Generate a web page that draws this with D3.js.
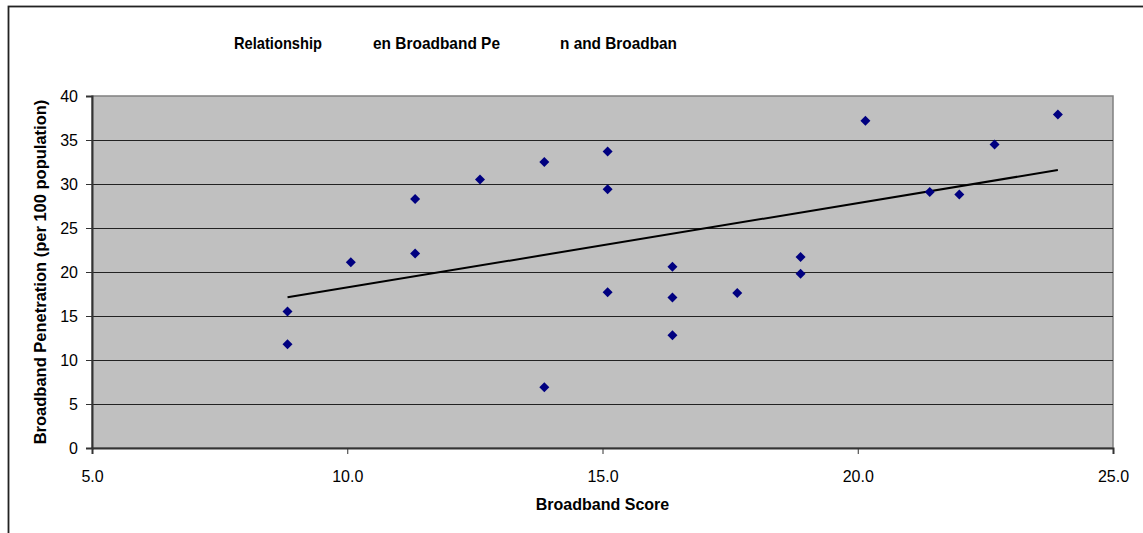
<!DOCTYPE html>
<html>
<head>
<meta charset="utf-8">
<script src="https://cdn.jsdelivr.net/npm/d3@7"></script>
<style>
  html, body { margin: 0; padding: 0; background: #fff; }
  svg { display: block; font-family: Arial, "Liberation Sans", sans-serif; }
</style>
</head>
<body>
<svg id="chart" width="1143" height="533"></svg>
<script>
// Broadband score (x) vs broadband penetration per 100 population (y)
const scores = [8.83, 8.83, 10.07, 11.33, 11.33, 12.60, 13.86, 13.86, 15.10, 15.10, 15.10,
                16.37, 16.37, 16.37, 17.64, 18.88, 18.88, 20.15, 21.41, 21.99, 22.68, 23.92];
const penetration = [15.5, 11.8, 21.1, 28.3, 22.1, 30.5, 32.5, 6.9, 33.7, 29.4, 17.7,
                     20.6, 17.1, 12.8, 17.6, 21.7, 19.8, 37.2, 29.1, 28.8, 34.5, 37.9];
const xTicks = [5, 10, 15, 20, 25];
const yTicks = [0, 5, 10, 15, 20, 25, 30, 35, 40];
const titleParts = ["Relationship", "en Broadband Pe", "n and Broadban"];
const xTitle = "Broadband Score";
const yTitle = "Broadband Penetration (per 100 population)";

const svg = d3.select("#chart");
const plot = { left: 92, right: 1113, top: 96, bottom: 448 };

const x = d3.scaleLinear().domain([5, 25]).range([plot.left, plot.right]);
const y = d3.scaleLinear().domain([0, 40]).range([plot.bottom, plot.top]);

// outer chart frame (runs off the right and bottom edges)
svg.append("rect")
  .attr("x", 8.5).attr("y", 6.5).attr("width", 1200).attr("height", 600)
  .attr("fill", "none").attr("stroke", "#222").attr("stroke-width", 1.8);

// plot area
svg.append("rect")
  .attr("x", plot.left).attr("y", plot.top)
  .attr("width", plot.right - plot.left).attr("height", plot.bottom - plot.top)
  .attr("fill", "#c0c0c0").attr("stroke", "#808080").attr("stroke-width", 1.5);

// horizontal gridlines
svg.append("g").selectAll("line")
  .data(yTicks.filter(d => d > 0 && d < 40))
  .join("line")
  .attr("x1", plot.left).attr("x2", plot.right)
  .attr("y1", d => Math.round(y(d)) + 0.5).attr("y2", d => Math.round(y(d)) + 0.5)
  .attr("stroke", "#222").attr("stroke-width", 1);

// axes
const yAxis = d3.axisLeft(y).tickValues(yTicks).tickSize(6).tickPadding(8).tickFormat(d3.format("d"));
const xAxis = d3.axisBottom(x).tickValues(xTicks).tickSize(6).tickPadding(17).tickFormat(d3.format(".1f"));

const gy = svg.append("g").attr("transform", `translate(${plot.left},0)`).call(yAxis);
const gx = svg.append("g").attr("transform", `translate(0,${plot.bottom})`).call(xAxis);

[gx, gy].forEach(g => {
  g.select(".domain").attr("stroke", "#333").attr("stroke-width", 2);
  g.selectAll(".tick line").attr("stroke", "#333").attr("stroke-width", 1);
  g.selectAll(".tick text")
    .attr("font-size", 16).attr("fill", "#000")
    .attr("font-family", "Arial, 'Liberation Sans', sans-serif");
});

// linear trendline (least squares fit)
const n = scores.length;
const mx = d3.mean(scores), my = d3.mean(penetration);
let sxy = 0, sxx = 0;
for (let i = 0; i < n; i++) {
  sxy += (scores[i] - mx) * (penetration[i] - my);
  sxx += (scores[i] - mx) * (scores[i] - mx);
}
const slope = sxy / sxx, intercept = my - slope * mx;
const [xmin, xmax] = d3.extent(scores);
svg.append("line")
  .attr("x1", x(xmin)).attr("y1", y(intercept + slope * xmin))
  .attr("x2", x(xmax)).attr("y2", y(intercept + slope * xmax))
  .attr("stroke", "#000").attr("stroke-width", 2);

// diamond markers
const r = 5;
svg.append("g").selectAll("path")
  .data(scores.map((s, i) => [s, penetration[i]]))
  .join("path")
  .attr("d", d => {
    const cx = x(d[0]), cy = y(d[1]);
    return `M${cx},${cy - r}L${cx + r},${cy}L${cx},${cy + r}L${cx - r},${cy}Z`;
  })
  .attr("fill", "#000080");

// title pieces
const titleX = [234, 373, 560];
const titleW = [88, 127, 117];
svg.append("g").selectAll("text")
  .data(titleParts)
  .join("text")
  .attr("x", (d, i) => titleX[i]).attr("y", 49)
  .attr("textLength", (d, i) => titleW[i]).attr("lengthAdjust", "spacingAndGlyphs")
  .attr("font-size", 17).attr("font-weight", "bold")
  .text(d => d);

// axis titles
svg.append("text")
  .attr("x", (plot.left + plot.right) / 2).attr("y", 510)
  .attr("text-anchor", "middle").attr("font-size", 16).attr("font-weight", "bold")
  .text(xTitle);

svg.append("text")
  .attr("transform", `translate(46,${(plot.top + plot.bottom) / 2}) rotate(-90)`)
  .attr("text-anchor", "middle").attr("font-size", 16.5).attr("font-weight", "bold")
  .text(yTitle);
</script>
</body>
</html>
